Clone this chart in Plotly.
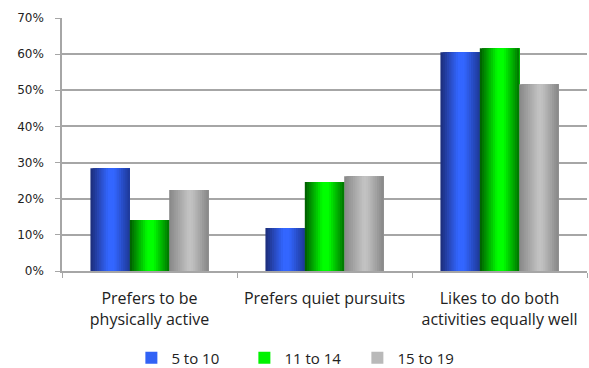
import plotly.graph_objects as go

categories = ["Prefers to be<br>physically active", "Prefers quiet pursuits",
              "Likes to do both<br>activities equally well"]
series_names = ["5 to 10", "11 to 14", "15 to 19"]
v_5_10 = [0.284, 0.119, 0.605]
v_11_14 = [0.141, 0.246, 0.616]
v_15_19 = [0.224, 0.262, 0.517]
y_ticks = [0, 0.1, 0.2, 0.3, 0.4, 0.5, 0.6, 0.7]
y_tick_labels = ["0%", "10%", "20%", "30%", "40%", "50%", "60%", "70%"]

series_values = [v_5_10, v_11_14, v_15_19]

# gradient stops (position, rgb) for each series' cylinder-like shading
gradients = [
    [(0.0, (28, 44, 120)), (0.45, (51, 102, 255)), (0.6, (51, 102, 255)), (1.0, (30, 56, 150))],
    [(0.0, (0, 90, 0)), (0.45, (0, 255, 0)), (0.6, (0, 255, 0)), (1.0, (0, 115, 0))],
    [(0.0, (135, 135, 135)), (0.5, (195, 195, 195)), (0.6, (190, 190, 190)), (1.0, (135, 135, 135))],
]


def grad_color(stops, t):
    for (p0, c0), (p1, c1) in zip(stops[:-1], stops[1:]):
        if p0 <= t <= p1:
            f = 0 if p1 == p0 else (t - p0) / (p1 - p0)
            c = [round(a + (b - a) * f) for a, b in zip(c0, c1)]
            return "rgb(%d,%d,%d)" % tuple(c)
    return "rgb(%d,%d,%d)" % stops[-1][1]


group_width = 0.675
bar_w = group_width / 3
n_strips = 18
strip_w = bar_w / n_strips

fig = go.Figure()
for si, (name, vals, stops) in enumerate(zip(series_names, series_values, gradients)):
    bar_left = -group_width / 2 + si * bar_w
    for k in range(n_strips):
        t = (k + 0.5) / n_strips
        fig.add_trace(go.Bar(
            x=categories, y=vals,
            width=bar_w - k * strip_w,
            offset=bar_left + k * strip_w,
            marker=dict(color=grad_color(stops, t), line=dict(width=0)),
            name=name, legendgroup=name,
            showlegend=(k == n_strips // 2 - 2),
            hoverinfo="skip",
        ))

fig.update_layout(
    width=589, height=368,
    margin=dict(l=62, r=2, t=18, b=97, autoexpand=False),
    paper_bgcolor="white", plot_bgcolor="white",
    barmode="overlay",
    font=dict(family="Open Sans, Lato, sans-serif", size=16, color="#222222"),
    showlegend=True,
    legend=dict(orientation="h", x=0.455, xanchor="center", xref="paper",
                y=-0.344, yanchor="middle", yref="paper",
                font=dict(size=15), itemwidth=30, entrywidth=68, tracegroupgap=0,
                traceorder="normal"),
    xaxis=dict(
        type="category", showgrid=False, showline=True, linecolor="#a6a6a6", linewidth=1.5,
        ticks="outside", tickson="boundaries", ticklen=5, tickcolor="#a6a6a6",
        tickfont=dict(size=16), range=[-0.5, 2.5], automargin=False,
        ticklabelstandoff=12,
    ),
    yaxis=dict(
        range=[0, 0.7], tickvals=y_ticks, ticktext=y_tick_labels,
        showgrid=True, gridcolor="#a6a6a6", gridwidth=1.5,
        showline=True, linecolor="#a6a6a6", linewidth=1.5,
        ticks="outside", ticklen=5, tickcolor="#a6a6a6",
        zeroline=False, automargin=False, ticklabelstandoff=9,
        tickfont=dict(family="DejaVu Sans, sans-serif", size=12),
    ),
)

fig.write_html("out.html")
